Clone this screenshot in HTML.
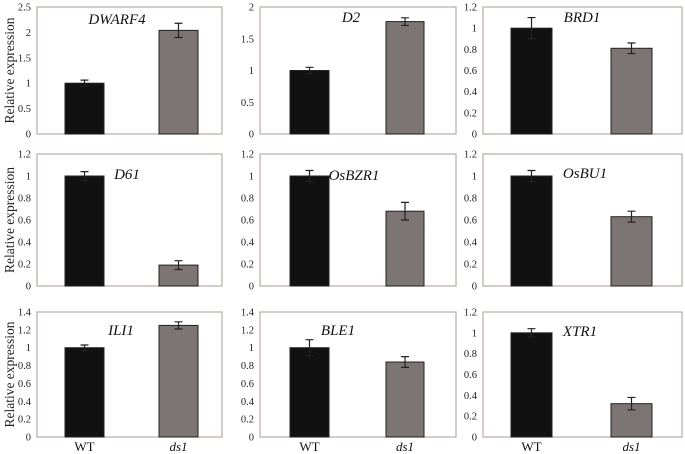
<!DOCTYPE html>
<html><head><meta charset="utf-8"><style>
html,body{margin:0;padding:0;background:#fff;}
svg{display:block;}
svg text{font-family:"Liberation Serif","Times New Roman",serif;}
</style></head><body>
<svg id="c" width="685" height="454"></svg>
<script>
const genes=["DWARF4","D2","BRD1","D61","OsBZR1","OsBU1","ILI1","BLE1","XTR1"];
const wtValues=[1,1,1,1,1,1,1,1,1];
const wtErrors=[0.06,0.05,0.1,0.04,0.05,0.05,0.03,0.09,0.04];
const ds1Values=[2.04,1.77,0.81,0.19,0.68,0.63,1.25,0.84,0.32];
const ds1Errors=[0.14,0.06,0.05,0.04,0.08,0.05,0.04,0.06,0.06];
const yMax=[2.5,2,1.2,1.2,1.2,1.2,1.4,1.4,1.2];
const yStep=[0.5,0.5,0.2,0.2,0.2,0.2,0.2,0.2,0.2];
const categories=["WT","ds1"];

const NS="http://www.w3.org/2000/svg";
const svg=document.getElementById('c');
const cols=[{x0:37,x1:222,b:[[65,104],[159,198]]},{x0:260,x1:456,b:[[290,329],[386,424]]},{x0:483,x1:682,b:[[511,552],[611,652]]}];
const rows=[{t:7,b:134},{t:154,b:286},{t:312,b:437}];
const labelPos=[[117,24],[351,22],[582,22],[127,179],[354,180],[585,178],[121,335],[338,335],[580,336]];
function el(tag,attrs,parent){const e=document.createElementNS(NS,tag);for(const k in attrs)e.setAttribute(k,attrs[k]);(parent||svg).appendChild(e);return e;}
function fmt(v){return (Math.round(v*10)/10).toString();}
for(let i=0;i<9;i++){
  const c=cols[i%3],r=rows[Math.floor(i/3)];
  const g=el('g',{});
  
  
  const y=v=>r.b-(v/yMax[i])*(r.b-r.t);
  const fr=el('rect',{x:c.x0,y:r.t,width:c.x1-c.x0,height:r.b-r.t,fill:'#fff',stroke:'#b9aca6','stroke-width':1.2},g);
  
  
  const n=Math.round(yMax[i]/yStep[i]);
  for(let k=0;k<=n;k++){
    const v=k*yStep[i];
    const t=el('text',{x:c.x0-6,y:y(v)+3.5,'text-anchor':'end','font-size':10.5,fill:'#222'},g);
    t.textContent=fmt(v);
    
    
  }
  const vals=[wtValues[i],ds1Values[i]],errs=[wtErrors[i],ds1Errors[i]],fills=['#111','#7d7573'];
  for(let j=0;j<2;j++){
    const [bx0,bx1]=c.b[j];
    const b=el('rect',{x:bx0,y:y(vals[j]),width:bx1-bx0,height:r.b-y(vals[j]),fill:fills[j],stroke:'#222','stroke-width':1},g);
    
    
    const cx=(bx0+bx1)/2,yt=y(vals[j]+errs[j]),yb=y(vals[j]-errs[j]);
    const e=el('path',{d:`M${cx},${yt}V${yb}M${cx-4},${yt}H${cx+4}M${cx-4},${yb}H${cx+4}`,stroke:'#222','stroke-width':1.2,fill:'none'},g);
    
    
  }
  const gl=el('text',{x:labelPos[i][0],y:labelPos[i][1],'text-anchor':'middle','font-size':15,'font-style':'italic',fill:'#111'},g);
  gl.textContent=genes[i];
  
  
  if(i%3===0){
    const yt=el('text',{transform:`translate(14,${(r.t+r.b)/2}) rotate(-90)`,'text-anchor':'middle','font-size':13.5,fill:'#222'},g);
    yt.textContent='Relative expression';
    
    
  }
  if(i>=6){
    for(let j=0;j<2;j++){
      const cx=(c.b[j][0]+c.b[j][1])/2;
      const xl=el('text',{x:cx,y:451,'text-anchor':'middle','font-size':13,'font-style':j?'italic':'normal',fill:'#111'},g);
      xl.textContent=categories[j];
      
      
    }
  }
}
</script>
</body></html>
